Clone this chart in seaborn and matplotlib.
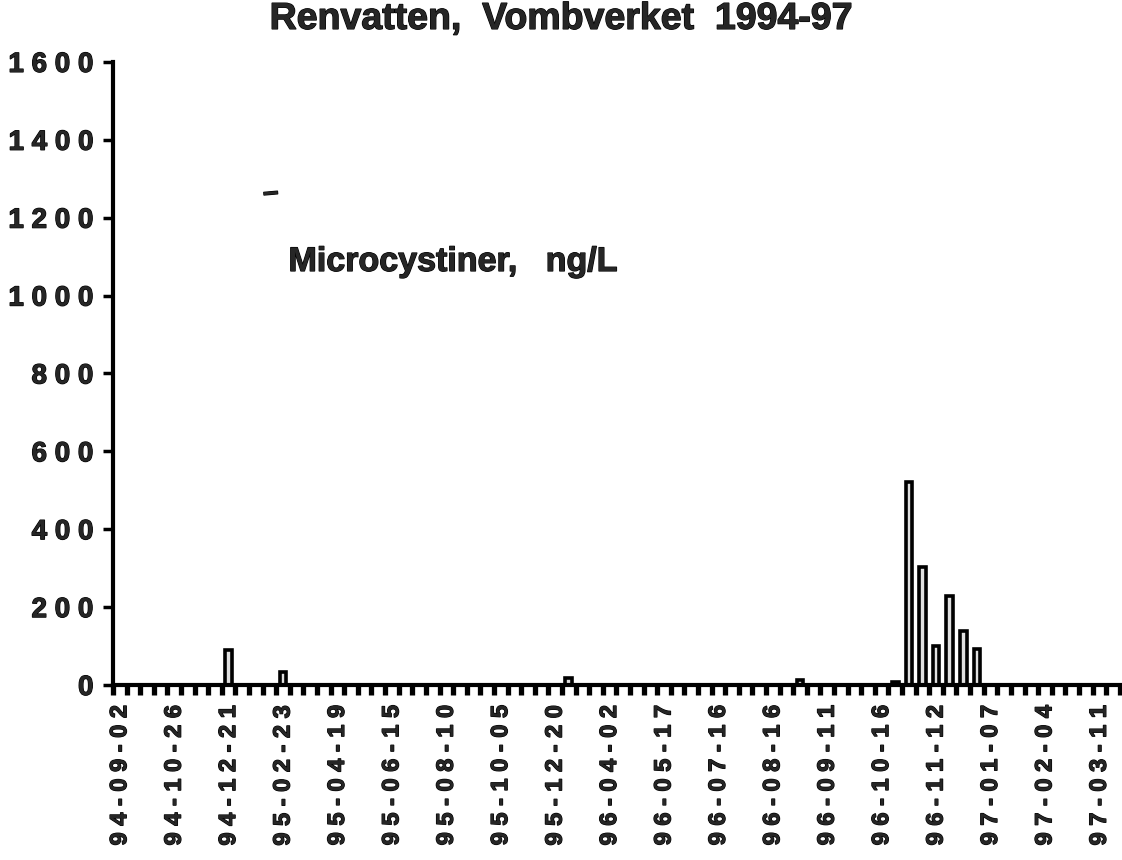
import matplotlib
matplotlib.use("Agg")
import matplotlib.pyplot as plt
import matplotlib.patheffects as pe
import numpy as np
import pandas as pd
import seaborn as sns

# Sampling dates shown on the x axis (every 4th sample is labelled)
label_dates = ['94-09-02', '94-10-26', '94-12-21', '95-02-23', '95-04-19',
               '95-06-15', '95-08-10', '95-10-05', '95-12-20', '96-04-02',
               '96-05-17', '96-07-16', '96-08-16', '96-09-11', '96-10-16',
               '96-11-12', '97-01-07', '97-02-04', '97-03-11']

# Microcystins in treated water, ng/L, one value per sample
microcystin = [0, 0, 0, 0, 0, 0, 0, 0, 90, 0,
               0, 0, 33, 0, 0, 0, 0, 0, 0, 0,
               0, 0, 0, 0, 0, 0, 0, 0, 0, 0,
               0, 0, 0, 18, 0, 0, 0, 0, 0, 0,
               0, 0, 0, 0, 0, 0, 0, 0, 0, 0,
               12, 0, 0, 0, 0, 0, 0, 8, 520, 302,
               100, 228, 138, 92, 0, 0, 0, 0, 0, 0,
               0, 0, 0, 0]

y_ticks = [0, 200, 400, 600, 800, 1000, 1200, 1400, 1600]

df = pd.DataFrame({'sample': range(len(microcystin)), 'value': microcystin})

sns.set_style('ticks')
plt.rcParams['font.family'] = ['Liberation Sans', 'DejaVu Sans']
plt.rcParams['font.weight'] = 'bold'

heavy = [pe.withStroke(linewidth=0.9, foreground='black')]

fig = plt.figure(figsize=(11.22, 8.6), dpi=100)
ax = fig.add_axes([0.1007, 0.2035, 0.8973, 0.7245])

sns.barplot(data=df, x='sample', y='value', order=list(range(len(microcystin))),
            color='#e0e0e0', edgecolor='black', linewidth=2.6, width=0.48,
            saturation=1, errorbar=None, ax=ax)

ax.set_xlim(-0.5, len(microcystin) - 0.5)
ax.set_ylim(0, 1600)
ax.set_xlabel('')
ax.set_ylabel('')
sns.despine(ax=ax)
for side in ['left', 'bottom']:
    ax.spines[side].set_linewidth(3)
    ax.spines[side].set_color('black')

# y axis
ax.set_yticks(y_ticks)
ax.set_yticklabels([' '.join(str(v)) for v in y_ticks], fontsize=20, fontweight='bold')
ax.tick_params(axis='y', length=7, width=2.5, color='black', pad=7)

# x axis: labels at every 4th sample, block ticks between samples
ax.set_xticks(range(0, len(microcystin), 4))
ax.set_xticklabels([' '.join(d) for d in label_dates], rotation=90,
                   fontsize=17, fontweight='bold', va='top', ha='center')
ax.tick_params(axis='x', which='major', length=0, pad=14)
ax.set_xticks(np.arange(-0.5, len(microcystin), 1), minor=True)
ax.tick_params(axis='x', which='minor', length=7, width=3.8, color='black')

for lbl in ax.get_xticklabels() + ax.get_yticklabels():
    lbl.set_path_effects(heavy)

fig.text(0.5, 0.978, 'Renvatten,  Vombverket  1994-97', ha='center', va='center',
         fontsize=27, fontweight='bold', path_effects=heavy)
ax.text(12.4, 1085, 'Microcystiner,   ng/L', ha='left', va='center',
        fontsize=24.5, fontweight='bold', path_effects=heavy)
ax.text(11.1, 1262, '\u2013', ha='center', va='center', fontsize=20,
        fontweight='bold', rotation=5, path_effects=heavy)

fig.savefig('out.png', dpi=100)
